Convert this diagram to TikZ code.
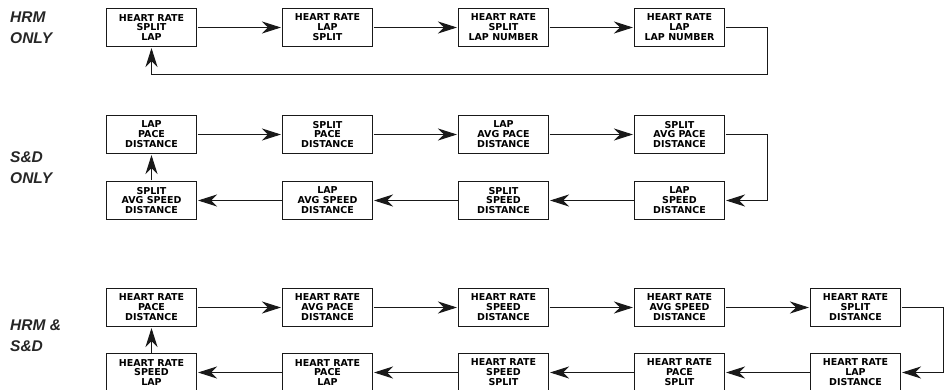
\documentclass[tikz,border=0pt]{standalone}
\usepackage{fontspec}
\setmainfont{DejaVu Sans}
\newfontfamily\sidefont{Liberation Sans}
\usetikzlibrary{arrows.meta}
\tikzset{
  mbox/.style={draw=black!90,line width=1pt,minimum width=90pt,minimum height=38pt,inner sep=0pt,outer sep=0pt,align=center,font=\fontsize{9.5}{9.9}\selectfont\bfseries,anchor=north west,text=black},
  conn/.style={draw=black!90,line width=1pt,-{Stealth[length=19pt,width=12pt,inset=6pt]},shorten >=1.5pt,shorten <=1pt},
  side/.style={anchor=west,align=left,font=\sidefont\fontsize{15.5}{21}\selectfont\bfseries\itshape,text=black!85,inner sep=0pt}
}
\begin{document}
\begin{tikzpicture}[x=1pt,y=-1pt]
\useasboundingbox (0,0) rectangle (947,390);
\node[side] (l1) at (10,27.5) {HRM\\ONLY};
\node[side] (l2) at (10,167.5) {S\&D\\ONLY};
\node[side] (l3) at (10,335.5) {HRM \&\\S\&D};
% row 1
\node[mbox] (a1) at (106.5,8.5) {HEART RATE\\SPLIT\\LAP};
\node[mbox] (a2) at (282.5,8.5) {HEART RATE\\LAP\\SPLIT};
\node[mbox] (a3) at (458.5,8.5) {HEART RATE\\SPLIT\\LAP NUMBER};
\node[mbox] (a4) at (634.5,8.5) {HEART RATE\\LAP\\LAP NUMBER};
\draw[conn] (a1) -- (a2);
\draw[conn] (a2) -- (a3);
\draw[conn] (a3) -- (a4);
\coordinate (ac1) at (767.5,74.5);
\draw[conn] (a4.east) -| (ac1) -| (a1.south);
% row 2
\node[mbox] (b1) at (106.5,115.5) {LAP\\PACE\\DISTANCE};
\node[mbox] (b2) at (282.5,115.5) {SPLIT\\PACE\\DISTANCE};
\node[mbox] (b3) at (458.5,115.5) {LAP\\AVG PACE\\DISTANCE};
\node[mbox] (b4) at (634.5,115.5) {SPLIT\\AVG PACE\\DISTANCE};
\node[mbox] (c1) at (106.5,181.5) {SPLIT\\AVG SPEED\\DISTANCE};
\node[mbox] (c2) at (282.5,181.5) {LAP\\AVG SPEED\\DISTANCE};
\node[mbox] (c3) at (458.5,181.5) {SPLIT\\SPEED\\DISTANCE};
\node[mbox] (c4) at (634.5,181.5) {LAP\\SPEED\\DISTANCE};
\draw[conn] (b1) -- (b2);
\draw[conn] (b2) -- (b3);
\draw[conn] (b3) -- (b4);
\coordinate (bc) at (767.5,134.5);
\draw[conn] (b4.east) -- (bc) |- (c4.east);
\draw[conn] (c4) -- (c3);
\draw[conn] (c3) -- (c2);
\draw[conn] (c2) -- (c1);
\draw[conn] (c1) -- (b1);
% row 3
\node[mbox] (d1) at (106.5,288.5) {HEART RATE\\PACE\\DISTANCE};
\node[mbox] (d2) at (282.5,288.5) {HEART RATE\\AVG PACE\\DISTANCE};
\node[mbox] (d3) at (458.5,288.5) {HEART RATE\\SPEED\\DISTANCE};
\node[mbox] (d4) at (634.5,288.5) {HEART RATE\\AVG SPEED\\DISTANCE};
\node[mbox] (d5) at (810.5,288.5) {HEART RATE\\SPLIT\\DISTANCE};
\node[mbox] (e1) at (106.5,353.5) {HEART RATE\\SPEED\\LAP};
\node[mbox] (e2) at (282.5,353.5) {HEART RATE\\PACE\\LAP};
\node[mbox] (e3) at (458.5,353.5) {HEART RATE\\SPEED\\SPLIT};
\node[mbox] (e4) at (634.5,353.5) {HEART RATE\\PACE\\SPLIT};
\node[mbox] (e5) at (810.5,353.5) {HEART RATE\\LAP\\DISTANCE};
\draw[conn] (d1) -- (d2);
\draw[conn] (d2) -- (d3);
\draw[conn] (d3) -- (d4);
\draw[conn] (d4) -- (d5);
\coordinate (dc) at (943.5,307.5);
\draw[conn] (d5.east) -- (dc) |- (e5.east);
\draw[conn] (e5) -- (e4);
\draw[conn] (e4) -- (e3);
\draw[conn] (e3) -- (e2);
\draw[conn] (e2) -- (e1);
\draw[conn] (e1) -- (d1);
\end{tikzpicture}
\end{document}
